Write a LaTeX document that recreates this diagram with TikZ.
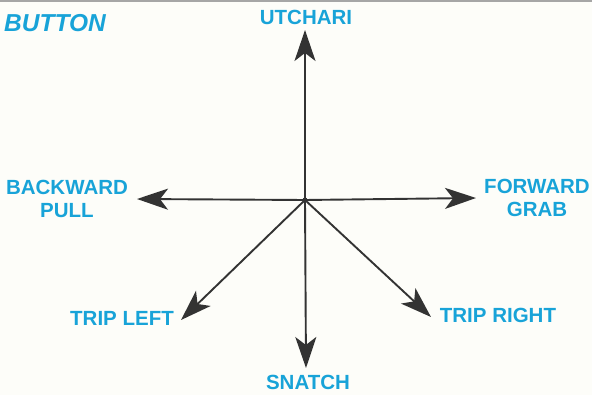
\documentclass[tikz,border=0pt]{standalone}
\usepackage{fontspec}
\setmainfont{Liberation Sans}
\usetikzlibrary{arrows.meta}
\definecolor{labblue}{HTML}{18A3D8}
\definecolor{arrowgray}{HTML}{333333}
\definecolor{paper}{HTML}{FDFDF9}
\tikzset{
  lab/.style={text=labblue, font=\bfseries\fontsize{20.5}{23}\selectfont, align=center, inner sep=0pt},
  dir/.style={draw=arrowgray, line width=1.9pt, -{Stealth[length=31pt,width=21pt,inset=8pt]}}
}
\begin{document}
\begin{tikzpicture}[x=1pt,y=-1pt]
\fill[paper] (0,0) rectangle (592,395);
\useasboundingbox (0,0) rectangle (592,395);
\draw[gray!70, line width=2pt] (0,1) -- (592,1);
\node[text=labblue, font=\bfseries\itshape\fontsize{24.5}{28}\selectfont, inner sep=0pt] (title) at (55,23) {BUTTON};
\coordinate (c) at (305,200);
\coordinate (up) at (305,30);
\coordinate (down) at (306,368);
\coordinate (left) at (137,199);
\coordinate (right) at (476,198);
\coordinate (dl) at (181,320);
\coordinate (dr) at (431,317);
\draw[dir] (c) -- (up);
\draw[dir] (c) -- (down);
\draw[dir] (c) -- (left);
\draw[dir] (c) -- (right);
\draw[dir] (c) -- (dl);
\draw[dir] (c) -- (dr);
\fill[arrowgray] (c) circle (2.5pt);
\node[lab] (utchari) at (306,17) {UTCHARI};
\node[lab] (snatch) at (308,382) {SNATCH};
\node[lab] (backward) at (67,199) {BACKWARD\\PULL};
\node[lab] (forward) at (537,198) {FORWARD\\GRAB};
\node[lab] (tripleft) at (122,318) {TRIP LEFT};
\node[lab] (tripright) at (498,315) {TRIP RIGHT};
\end{tikzpicture}
\end{document}
